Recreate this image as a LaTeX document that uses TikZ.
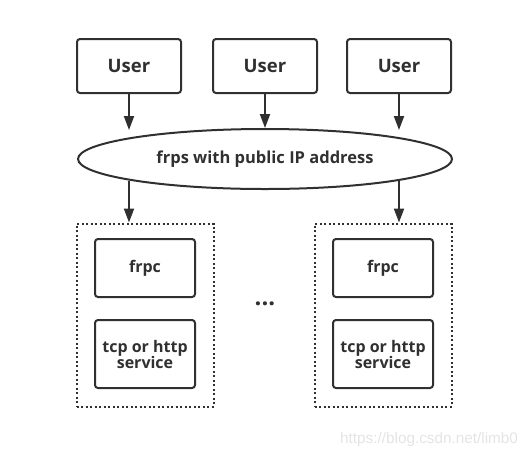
\documentclass[tikz,border=0pt]{standalone}
\usepackage{fontspec}
\setmainfont{Open Sans}
\newfontfamily\markfont{Liberation Sans}
\usetikzlibrary{shapes.geometric, arrows.meta, positioning, calc}
\definecolor{inkgray}{HTML}{303030}
\definecolor{markgray}{HTML}{E4E4E4}

\begin{document}
\begin{tikzpicture}[
        x=1pt, y=-1pt,
        font=\bfseries,
        block/.style={
            rectangle,
            draw=inkgray,
            line width=2pt,
            rounded corners=3pt,
            text=inkgray,
            text centered,
            align=center
        },
        user/.style={block, minimum width=104pt, minimum height=54pt,
            font=\bfseries\fontsize{18.5}{22}\selectfont},
        inner/.style={block, minimum width=100pt,
            font=\bfseries\fontsize{16}{16}\selectfont},
        server/.style={ellipse, draw=inkgray, line width=2pt, text=inkgray,
            minimum width=374pt, minimum height=60pt,
            font=\bfseries\fontsize{16.5}{19}\selectfont},
        client/.style={rectangle, draw=inkgray, line width=2pt,
            dash pattern=on 2pt off 2.5pt,
            minimum width=137pt, minimum height=183pt},
        line/.style={draw=inkgray, line width=2pt,
            -{Triangle[length=14pt, width=10pt]}}
    ]
        \useasboundingbox (0,0) rectangle (532,456);

        % nodes
        \node [user] (user1) at (129,66) {User};
        \node [user] (user2) at (265,66) {User};
        \node [user] (user3) at (399,66) {User};
        \node [server] (frps) at (265,159) {frps with public IP address};

        \node [client] (client1) at (145,315) {};
        \node [client] (client2) at (383,315) {};
        \node [inner, minimum height=58pt] (frpc1) at (145,268) {frpc};
        \node [inner, minimum height=68pt] (svc1) at (145,354) {tcp or http\\service};
        \node [inner, minimum height=58pt] (frpc2) at (383,268) {frpc};
        \node [inner, minimum height=68pt] (svc2) at (383,354) {tcp or http\\service};

        \node [text=inkgray, font=\bfseries\fontsize{24}{24}\selectfont] (more) at (265,304) {...};
        \node [text=markgray, anchor=base west, inner sep=0pt,
            font=\markfont\fontsize{15.3}{18}\selectfont] (mark) at (340,443) {https://blog.csdn.net/limb0};

        % paths
        \path [line] (user1) -- ($(user1 |- frps.north)+(0,2)$);
        \path [line] (user2) -- (frps);
        \path [line] (user3) -- ($(user3 |- frps.north)+(0,2)$);

        \path [line] ($(frps.south -| user1)+(0,-9.5)$) -- (user1 |- client1.north);
        \path [line] ($(frps.south -| user3)+(0,-9)$) -- (user3 |- client2.north);

    \end{tikzpicture}
\end{document}
